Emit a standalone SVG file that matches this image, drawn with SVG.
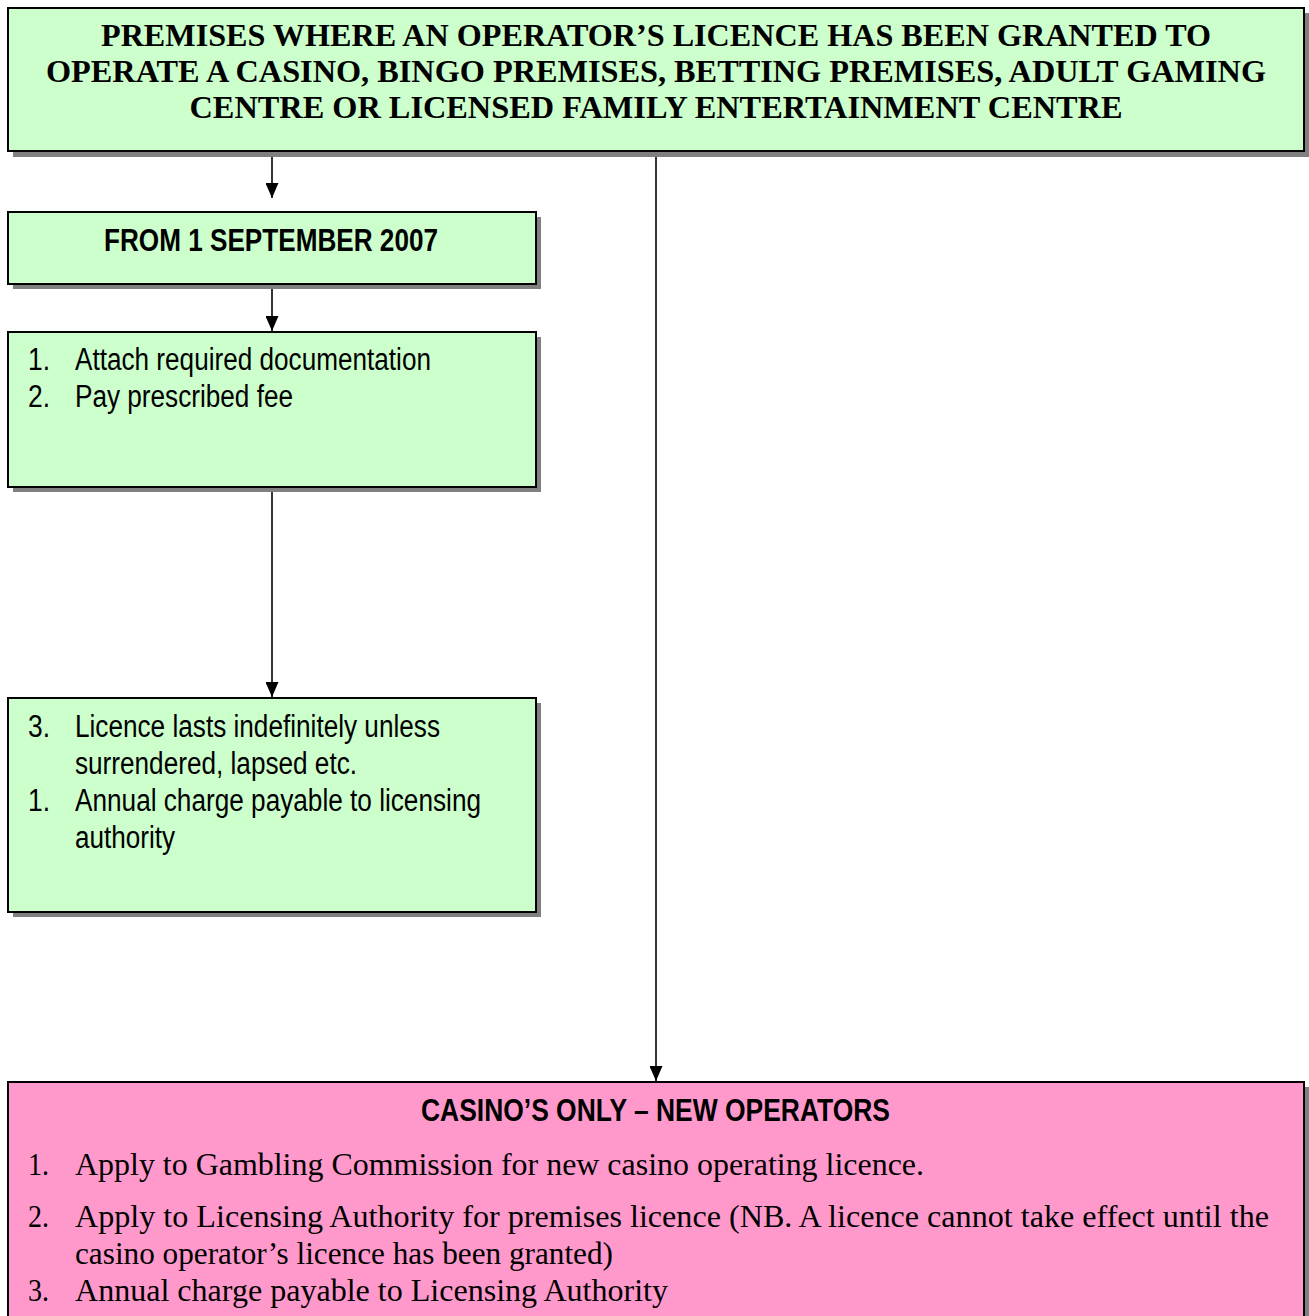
<svg xmlns="http://www.w3.org/2000/svg" width="1309" height="1316" viewBox="0 0 1309 1316">
<style>
.box{stroke:#000;stroke-width:2}
.g{fill:#CCFFCC}
.p{fill:#FF99CC}
.sh{fill:#808080}
.ser{font-family:"Liberation Serif","Times New Roman",serif;fill:#000}
.nar{font-family:"Liberation Sans Narrow","Liberation Sans",Arial,sans-serif;fill:#000}
.conn{stroke:#000;stroke-width:1.6;fill:none}
</style>
<defs>
<marker id="ah" markerWidth="15" markerHeight="13" refX="15" refY="6.5" orient="auto" markerUnits="userSpaceOnUse" viewBox="0 0 15 13">
<path d="M0,0 L15,6.5 L0,13 Z" fill="#000"/>
</marker>
</defs>
<g id="connectors">
<line class="conn" x1="272" y1="152" x2="272" y2="198" marker-end="url(#ah)"/>
<line class="conn" x1="272" y1="285" x2="272" y2="331" marker-end="url(#ah)"/>
<line class="conn" x1="272" y1="488" x2="272" y2="697" marker-end="url(#ah)"/>
<line class="conn" x1="656" y1="147" x2="656" y2="1081" marker-end="url(#ah)"/>
</g>
<g id="top">
<rect class="sh" x="13" y="13" width="1296" height="144"/>
<rect class="box g" x="8" y="8" width="1296" height="143"/>
<g class="ser" font-weight="bold" font-size="32" text-anchor="middle">
<text x="656" y="46" textLength="1110" lengthAdjust="spacingAndGlyphs">PREMISES WHERE AN OPERATOR’S LICENCE HAS BEEN GRANTED TO</text>
<text x="656" y="82" textLength="1220" lengthAdjust="spacingAndGlyphs">OPERATE A CASINO, BINGO PREMISES, BETTING PREMISES, ADULT GAMING</text>
<text x="656" y="118" textLength="933" lengthAdjust="spacingAndGlyphs">CENTRE OR LICENSED FAMILY ENTERTAINMENT CENTRE</text>
</g>
</g>
<g id="from">
<rect class="sh" x="13" y="217" width="528" height="72"/>
<rect class="box g" x="8" y="212" width="528" height="72"/>
<text class="nar" font-weight="bold" font-size="31" x="104" y="251" textLength="334" lengthAdjust="spacingAndGlyphs">FROM 1 SEPTEMBER 2007</text>
</g>
<g id="steps12">
<rect class="sh" x="13" y="337" width="528" height="155"/>
<rect class="box g" x="8" y="332" width="528" height="155"/>
<g class="nar" font-size="31">
<text x="28" y="370" textLength="22" lengthAdjust="spacingAndGlyphs">1.</text>
<text x="75" y="370" textLength="356" lengthAdjust="spacingAndGlyphs">Attach required documentation</text>
<text x="28" y="407" textLength="22" lengthAdjust="spacingAndGlyphs">2.</text>
<text x="75" y="407" textLength="218" lengthAdjust="spacingAndGlyphs">Pay prescribed fee</text>
</g>
</g>
<g id="steps3">
<rect class="sh" x="13" y="703" width="528" height="214"/>
<rect class="box g" x="8" y="698" width="528" height="214"/>
<g class="nar" font-size="31">
<text x="28" y="737" textLength="22" lengthAdjust="spacingAndGlyphs">3.</text>
<text x="75" y="737" textLength="365" lengthAdjust="spacingAndGlyphs">Licence lasts indefinitely unless</text>
<text x="75" y="774" textLength="282" lengthAdjust="spacingAndGlyphs">surrendered, lapsed etc.</text>
<text x="28" y="811" textLength="22" lengthAdjust="spacingAndGlyphs">1.</text>
<text x="75" y="811" textLength="406" lengthAdjust="spacingAndGlyphs">Annual charge payable to licensing</text>
<text x="75" y="848" textLength="100" lengthAdjust="spacingAndGlyphs">authority</text>
</g>
</g>
<g id="casino">
<rect class="sh" x="13" y="1087" width="1296" height="240"/>
<rect class="box p" x="8" y="1082" width="1296" height="245"/>
<text class="nar" font-weight="bold" font-size="31" x="421" y="1121" textLength="469" lengthAdjust="spacingAndGlyphs">CASINO’S ONLY – NEW OPERATORS</text>
<g class="ser" font-size="31">
<text x="28" y="1175" textLength="21" lengthAdjust="spacingAndGlyphs">1.</text>
<text x="75" y="1175" textLength="849" lengthAdjust="spacingAndGlyphs">Apply to Gambling Commission for new casino operating licence.</text>
<text x="28" y="1227" textLength="21" lengthAdjust="spacingAndGlyphs">2.</text>
<text x="75" y="1227" textLength="1194" lengthAdjust="spacingAndGlyphs">Apply to Licensing Authority for premises licence (NB. A licence cannot take effect until the</text>
<text x="75" y="1264" textLength="538" lengthAdjust="spacingAndGlyphs">casino operator’s licence has been granted)</text>
<text x="28" y="1301" textLength="21" lengthAdjust="spacingAndGlyphs">3.</text>
<text x="75" y="1301" textLength="593" lengthAdjust="spacingAndGlyphs">Annual charge payable to Licensing Authority</text>
</g>
</g>
</svg>
